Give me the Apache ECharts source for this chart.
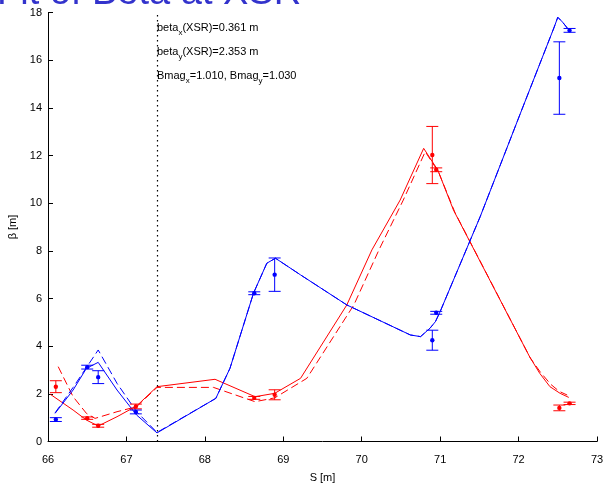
<!DOCTYPE html>
<html>
<head>
<meta charset="utf-8">
<script src="https://cdn.jsdelivr.net/npm/echarts@6/dist/echarts.min.js"></script>
<style>
  html, body { margin: 0; padding: 0; background: #fff; }
  #chart { width: 604px; height: 485px; }
</style>
</head>
<body>
<div id="chart"></div>
<script>
// measured beta at the wire / profile monitor positions
const measS = [66.10, 66.50, 66.64, 67.12, 68.63, 68.89, 70.90, 70.95, 72.52, 72.65]
const betaXMeas = [0.92, 3.12, 2.70, 1.24, 6.22, 7.00, 4.25, 5.40, 15.25, 17.25]
const betaXErr = [0.08, 0.08, 0.27, 0.08, 0.06, 0.70, 0.42, 0.06, 1.52, 0.08]
const betaYMeas = [2.30, 0.98, 0.66, 1.47, 1.83, 1.96, 12.02, 11.40, 1.41, 1.60]
const betaYErr = [0.25, 0.05, 0.06, 0.10, 0.06, 0.21, 1.20, 0.08, 0.12, 0.05]

// fitted (solid) and design (dashed) beta functions
const fitXS = [66.09, 66.32, 66.49, 66.64, 66.88, 67.13, 67.39, 68.14, 68.32, 68.62, 68.79, 68.90, 69.22, 69.81, 70.62, 70.75, 70.87, 70.94, 71.00, 71.51, 72.02, 72.45, 72.50, 72.56, 72.64]
const fitX = [1.18, 2.16, 3.07, 3.32, 2.16, 1.11, 0.36, 1.81, 3.07, 6.22, 7.48, 7.69, 6.99, 5.73, 4.47, 4.40, 4.75, 5.03, 5.45, 9.43, 13.74, 17.35, 17.80, 17.60, 17.27]
const designXS = [66.09, 66.32, 66.64, 66.88, 67.13, 67.39, 68.14, 68.32, 68.62, 68.79, 68.90, 69.22, 69.81, 70.62, 70.75, 70.87, 70.94, 71.00, 71.51, 72.02, 72.45, 72.50, 72.56, 72.64]
const designX = [1.20, 2.27, 3.84, 2.44, 1.25, 0.38, 1.81, 3.07, 6.22, 7.48, 7.69, 6.99, 5.73, 4.47, 4.40, 4.75, 5.03, 5.45, 9.43, 13.74, 17.35, 17.80, 17.60, 17.27]

const fitYS = [66.03, 66.32, 66.49, 66.64, 66.88, 67.13, 67.39, 68.13, 68.64, 68.89, 69.22, 69.81, 70.13, 70.49, 70.79, 70.97, 71.17, 72.14, 72.27, 72.40, 72.53, 72.64]
const fitY = [1.98, 1.32, 0.90, 0.65, 1.04, 1.49, 2.30, 2.61, 1.88, 2.02, 2.65, 5.73, 8.04, 10.13, 12.30, 11.39, 9.71, 3.56, 2.86, 2.30, 2.02, 1.85]
const designYS = [66.13, 66.32, 66.49, 66.60, 66.88, 67.13, 67.39, 68.11, 68.64, 68.89, 69.30, 69.90, 70.22, 70.53, 70.81, 70.98, 71.19, 72.15, 72.28, 72.41, 72.52, 72.62]
const designY = [3.14, 1.88, 1.18, 0.97, 1.25, 1.46, 2.27, 2.27, 1.67, 1.83, 2.65, 5.73, 8.04, 10.13, 12.16, 11.30, 9.60, 3.50, 2.90, 2.40, 2.10, 1.95]

const xsrS = 67.39
const xTicks = [66, 67, 68, 69, 70, 71, 72, 73]
const yTicks = [0, 2, 4, 6, 8, 10, 12, 14, 16, 18]

const BLUE = '#0000ff'
const RED = '#ff0000'
const FONT = 'Liberation Sans'

const zip = (a, b) => a.map((v, i) => [v, b[i]])

function curve(name, color, s, b, dashed) {
  return {
    name,
    type: 'line',
    data: zip(s, b),
    showSymbol: false,
    symbol: 'none',
    lineStyle: { color, width: 1, type: dashed ? [8, 4] : 'solid' },
    silent: true,
    z: 3,
  }
}

function errorBars(name, color, vals, errs) {
  return {
    name,
    type: 'custom',
    data: measS.map((s, i) => [s, vals[i], vals[i] - errs[i], vals[i] + errs[i]]),
    renderItem(params, api) {
      const p = api.coord([api.value(0), api.value(1)])
      const lo = api.coord([api.value(0), api.value(2)])
      const hi = api.coord([api.value(0), api.value(3)])
      const w = 6
      const st = { stroke: color, lineWidth: 1 }
      return {
        type: 'group',
        children: [
          { type: 'line', shape: { x1: p[0], y1: lo[1], x2: p[0], y2: hi[1] }, style: st },
          { type: 'line', shape: { x1: p[0] - w, y1: lo[1], x2: p[0] + w, y2: lo[1] }, style: st },
          { type: 'line', shape: { x1: p[0] - w, y1: hi[1], x2: p[0] + w, y2: hi[1] }, style: st },
          { type: 'circle', shape: { cx: p[0], cy: p[1], r: 2.2 }, style: { fill: color } },
        ],
      }
    },
    silent: true,
    z: 5,
  }
}

const axisCommon = {
  axisLine: { show: true, lineStyle: { color: '#000', width: 1 } },
  axisTick: { show: true, inside: true, length: 5, lineStyle: { color: '#000' } },
  splitLine: { show: false },
  nameLocation: 'middle',
  nameTextStyle: { color: '#000', fontSize: 11, fontFamily: FONT },
}

const rich = {
  s: { fontSize: 8, fontFamily: FONT, fill: '#000', verticalAlign: 'bottom', lineHeight: 18 },
}

function note(text, y) {
  return {
    type: 'text',
    x: 157,
    y,
    style: {
      text,
      fontSize: 11,
      fontFamily: FONT,
      fill: '#000',
      lineHeight: 18,
      verticalAlign: 'middle',
      rich,
    },
    z: 10,
  }
}

const chart = echarts.init(document.getElementById('chart'))
chart.setOption({
  animation: false,
  backgroundColor: '#fff',
  grid: { left: 48, right: 7, top: 12.5, bottom: 43.5, outerBoundsMode: 'none', containLabel: false },
  xAxis: {
    ...axisCommon,
    type: 'value',
    min: xTicks[0],
    max: xTicks[xTicks.length - 1],
    interval: 1,
    name: 'S [m]',
    nameGap: 31,
    axisLabel: { color: '#000', fontSize: 11, fontFamily: FONT, margin: 13 },
  },
  yAxis: {
    ...axisCommon,
    type: 'value',
    min: yTicks[0],
    max: yTicks[yTicks.length - 1],
    interval: 2,
    name: 'β [m]',
    nameGap: 25,
    nameRotate: 90,
    axisLabel: { color: '#000', fontSize: 11, fontFamily: FONT, margin: 6 },
  },
  graphic: [
    {
      type: 'text',
      x: -3,
      y: -6,
      style: {
        text: 'Fit of Beta at XSR',
        fontSize: 38,
        fontFamily: FONT,
        fill: '#3333cc',
        verticalAlign: 'middle',
      },
      z: 10,
    },
    note('beta{s|x}(XSR)=0.361 m', 28),
    note('beta{s|y}(XSR)=2.353 m', 51.5),
    note('Bmag{s|x}=1.010, Bmag{s|y}=1.030', 76),
  ],
  series: [
    {
      ...curve('design y', RED, designYS, designY, true),
      markLine: {
        silent: true,
        symbol: 'none',
        label: { show: false },
        lineStyle: { color: '#000', type: [1.5, 3.5], width: 1.2 },
        data: [{ xAxis: xsrS }],
      },
    },
    curve('fit y', RED, fitYS, fitY, false),
    curve('design x', BLUE, designXS, designX, true),
    curve('fit x', BLUE, fitXS, fitX, false),
    errorBars('meas y', RED, betaYMeas, betaYErr),
    errorBars('meas x', BLUE, betaXMeas, betaXErr),
  ],
})
</script>
</body>
</html>
